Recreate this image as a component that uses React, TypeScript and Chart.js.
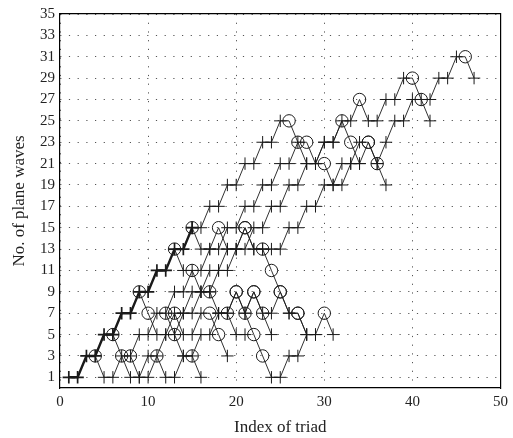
import React, { useEffect, useRef } from 'react';
import { Chart, registerables } from 'chart.js';

Chart.register(...registerables);

const xTicks = [0, 10, 20, 30, 40, 50];
const yTicks = [1, 3, 5, 7, 9, 11, 13, 15, 17, 19, 21, 23, 25, 27, 29, 31, 33, 35];

// Each path: first triad index and the number of plane waves at each successive triad
const mainStart = 1;
const mainPath = [1, 1, 3, 3, 5, 5, 7, 7, 9, 9, 11, 11, 13, 13, 15];

const upperStart = 15;
const upperPath = [15, 15, 17, 17, 19, 19, 21, 21, 23, 23, 25, 25, 23, 21, 21, 23, 23, 25, 25, 27, 25, 25, 27, 27, 29, 29, 27, 27, 29, 29, 31, 31, 29];

const branchAStart = 4;
const branchA = [3, 1, 1, 3, 3, 5, 5, 7, 7, 9, 9, 11, 11, 13, 13, 15, 15, 17, 17, 19, 19, 21, 21, 23, 23, 21, 21, 19, 19, 21, 21, 23, 21, 19];

const branchBStart = 6;
const branchB = [5, 3, 1, 1, 3, 3, 5, 5, 7, 7, 9, 9, 11, 11, 13, 13, 15, 15, 17, 17, 19, 19, 21, 21, 23, 23, 25, 23, 21];

const branchCStart = 9;
const branchC = [9, 7, 5, 5, 7, 7, 9, 9, 11, 11, 13, 13, 15, 13, 13, 11, 9, 7, 7, 5, 5, 7, 5];

const branchDStart = 23;
const branchD = [13, 13, 13, 15, 15, 17, 17, 19, 19, 21, 21, 23, 23, 21];

const branchEStart = 36;
const branchE = [21, 23, 25, 25, 27, 27, 25];

const zigAStart = 8;
const zigA = [3, 1, 1, 3, 1, 1, 3, 3, 1];

const zigBStart = 12;
const zigB = [7, 5, 3, 3, 5, 5, 7, 7, 5, 5];

const zigCStart = 13;
const zigC = [7, 5, 5, 7, 7, 5, 3];

const zigDStart = 18;
const zigD = [7, 7, 9, 7, 5, 3, 1, 1, 3, 3, 5, 5];

const zigEStart = 17;
const zigE = [9, 7, 7, 9, 7, 9, 7, 7, 9, 7, 7, 5];

const zigFStart = 15;
const zigF = [15, 13, 13, 15, 13, 13, 15, 13, 13];

const zigGStart = 13;
const zigG = [13, 11, 11, 9, 9];

const zigHStart = 21;
const zigH = [7, 9, 7, 5];

const paths: { start: number; values: number[]; bold?: boolean }[] = [
  { start: mainStart, values: mainPath, bold: true },
  { start: upperStart, values: upperPath },
  { start: branchAStart, values: branchA },
  { start: branchBStart, values: branchB },
  { start: branchCStart, values: branchC },
  { start: branchDStart, values: branchD },
  { start: branchEStart, values: branchE },
  { start: zigAStart, values: zigA },
  { start: zigBStart, values: zigB },
  { start: zigCStart, values: zigC },
  { start: zigDStart, values: zigD },
  { start: zigEStart, values: zigE },
  { start: zigFStart, values: zigF },
  { start: zigGStart, values: zigG },
  { start: zigHStart, values: zigH },
];

const FONT = "'Liberation Serif', 'DejaVu Serif', serif";

export default function App() {
  const ref = useRef<HTMLCanvasElement | null>(null);

  useEffect(() => {
    document.body.style.margin = '0';
    if (!ref.current) return;
    const datasets = paths.map((p) => {
      const styles = p.values.map((v, i) =>
        i < p.values.length - 1 && p.values[i + 1] < v ? 'circle' : 'cross'
      );
      return {
        data: p.values.map((v, i) => ({ x: p.start + i, y: v })),
        borderColor: '#1a1a1a',
        borderWidth: p.bold ? 2.4 : 0.9,
        pointStyle: styles,
        pointRadius: 6.2,
        pointBorderWidth: p.bold ? 1.7 : 1,
        pointBorderColor: '#1a1a1a',
        pointBackgroundColor: 'rgba(0,0,0,0)',
        fill: false,
        tension: 0,
        showLine: true,
      };
    });

    const chart = new Chart(ref.current, {
      type: 'line',
      data: { datasets: datasets as any },
      options: {
        animation: false,
        responsive: true,
        maintainAspectRatio: false,
        layout: { padding: { top: 14, right: 6, left: 0, bottom: 0 } },
        plugins: { legend: { display: false }, tooltip: { enabled: false } },
        scales: {
          x: {
            type: 'linear',
            min: 0,
            max: 50,
            afterBuildTicks: (s: any) => {
              s.ticks = xTicks.map((v) => ({ value: v }));
            },
            afterFit: (s: any) => {
              s.height = 50;
            },
            ticks: { color: '#222', font: { family: FONT, size: 15 }, padding: 5 },
            grid: { color: '#555', lineWidth: 1, drawTicks: false },
            border: { display: true, color: '#000', width: 1.2, dash: [1.2, 7.5] },
            title: {
              display: true,
              text: 'Index of triad',
              color: '#222',
              font: { family: FONT, size: 17 },
              padding: { top: 1, bottom: 0 },
            },
          },
          y: {
            type: 'linear',
            min: 0,
            max: 35,
            afterBuildTicks: (s: any) => {
              s.ticks = yTicks.map((v) => ({ value: v }));
            },
            afterFit: (s: any) => {
              s.width = 60;
            },
            ticks: { color: '#222', font: { family: FONT, size: 15 }, padding: 5 },
            grid: { color: '#555', lineWidth: 1, drawTicks: false },
            border: { display: true, color: '#000', width: 1.2, dash: [1.2, 7.5] },
            title: {
              display: true,
              text: 'No. of plane waves',
              color: '#222',
              font: { family: FONT, size: 17 },
              padding: { top: 9, bottom: 4 },
            },
          },
          xTop: {
            type: 'linear',
            position: 'top',
            min: 0,
            max: 50,
            ticks: { display: false },
            grid: { drawOnChartArea: false, drawTicks: false },
            border: { display: true, color: '#000', width: 1.2 },
            afterFit: (s: any) => {
              s.height = 0;
            },
          },
          yRight: {
            type: 'linear',
            position: 'right',
            min: 0,
            max: 35,
            ticks: { display: false },
            grid: { drawOnChartArea: false, drawTicks: false },
            border: { display: true, color: '#000', width: 1.2 },
            afterFit: (s: any) => {
              s.width = 0;
            },
          },
        },
      } as any,
    });
    return () => chart.destroy();
  }, []);

  return (
    <div style={{ width: 513, height: 438, position: 'relative' }}>
      <canvas ref={ref} />
    </div>
  );
}
